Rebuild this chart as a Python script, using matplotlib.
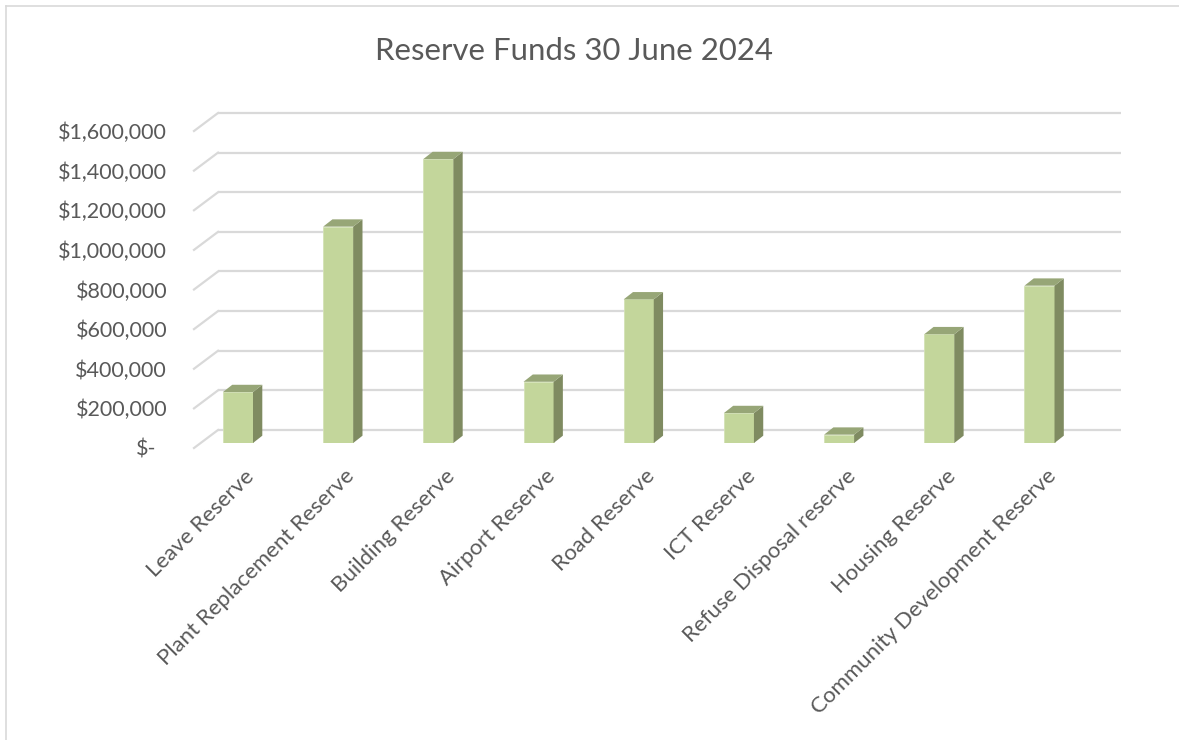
import numpy as np
import matplotlib.pyplot as plt
from matplotlib.lines import Line2D
from matplotlib.transforms import ScaledTranslation

plt.rcParams['font.family'] = ['Lato', 'DejaVu Sans']

# data
categories = ['Leave Reserve', 'Plant Replacement Reserve', 'Building Reserve',
              'Airport Reserve', 'Road Reserve', 'ICT Reserve',
              'Refuse Disposal reserve', 'Housing Reserve',
              'Community Development Reserve']
values = [257000, 1092000, 1433000, 309000, 725000, 151000, 42000, 549000, 794000]

y_ticks = [0, 200000, 400000, 600000, 800000, 1000000, 1200000, 1400000, 1600000]
y_tick_labels = ['$-', '$200,000', '$400,000', '$600,000', '$800,000',
                 '$1,000,000', '$1,200,000', '$1,400,000', '$1,600,000']
title = 'Reserve Funds 30 June 2024'

# colours
text_col = '#595959'
grid_col = '#d9d9d9'
front_col = '#c3d69b'
side_col = '#7f8b61'
top_col = '#97a677'

W, H = 1179, 740
fig = plt.figure(figsize=(W / 100, H / 100), dpi=100)


def px_rect(l, t, r, b):
    return [l / W, 1 - b / H, (r - l) / W, (b - t) / H]


# plane where the bars stand, plus the back wall and the front edge (pseudo 3d)
L, R, T, B = 200.7, 1103.7, 126, 443
back_dx, back_dy = 17.3, -13
front_dx, front_dy = -6.7, 5
xlim = (-0.372, 8.641)
ylim = (0, 1600000)

ax_back = fig.add_axes(px_rect(L + back_dx, T + back_dy, R + back_dx, B + back_dy))
ax_front = fig.add_axes(px_rect(L + front_dx, T + front_dy, R + front_dx, B + front_dy))
ax = fig.add_axes(px_rect(L, T, R, B))

for a in (ax_back, ax_front, ax):
    a.set_xlim(xlim)
    a.set_ylim(ylim)
    a.patch.set_visible(False)
    for s in a.spines.values():
        s.set_visible(False)

ax_back.set_xticks([])
ax_back.set_yticks([])
ax.set_xticks([])
ax.set_yticks([])

# back wall gridlines
ax_back.hlines(y_ticks, xlim[0], xlim[1], color=grid_col, lw=1.6, clip_on=False)

# side wall lines, front edge -> back wall
inv = fig.transFigure.inverted()
for v in y_ticks:
    p0 = inv.transform(ax_front.transData.transform((xlim[0], v)))
    p1 = inv.transform(ax_back.transData.transform((xlim[0], v)))
    fig.add_artist(Line2D([p0[0], p1[0]], [p0[1], p1[1]], color=grid_col, lw=1.6))

# bars with a little depth
x = np.arange(len(categories))
bw = 0.3
ppx = (R - L) / (xlim[1] - xlim[0])
ppy = (B - T) / (ylim[1] - ylim[0])
ddx = 9.3 / ppx
ddy = 7.3 / ppy

ax.bar(x, values, width=bw, color=front_col, edgecolor='#d4e2b6', linewidth=0.6, zorder=3)
for xi, v in zip(x, values):
    xl, xr = xi - bw / 2, xi + bw / 2
    ax.fill([xr, xr, xr + ddx, xr + ddx], [0, v, v + ddy, ddy],
            color=side_col, lw=0, zorder=3, clip_on=False)
    ax.fill([xl, xr, xr + ddx, xl + ddx], [v, v, v + ddy, v + ddy],
            color=top_col, lw=0, zorder=3, clip_on=False)

# labels on the front plane
ax_front.set_yticks(y_ticks)
ax_front.set_yticklabels(y_tick_labels)
ax_front.set_xticks(x)
ax_front.set_xticklabels(categories, rotation=45, ha='right', va='top',
                         rotation_mode='anchor')
ax_front.tick_params(axis='y', length=0, pad=19.4, labelsize=15.5, labelcolor=text_col)
ax_front.tick_params(axis='x', length=0, pad=13, labelsize=16, labelcolor=text_col)
for lab in ax_front.get_xticklabels():
    lab.set_transform(lab.get_transform() + ScaledTranslation(13 / 100, 0, fig.dpi_scale_trans))
ylabs = ax_front.get_yticklabels()
ylabs[0].set_transform(ylabs[0].get_transform() + ScaledTranslation(-11 / 100, 0, fig.dpi_scale_trans))

fig.text(574 / W, 1 - 51 / H, title, ha='center', va='center', fontsize=22.4, color=text_col)

# chart border (left and top visible)
fig.add_artist(Line2D([5.5 / W, 5.5 / W], [0, 1 - 6 / H], color=grid_col, lw=1.2))
fig.add_artist(Line2D([5.5 / W, 1], [1 - 6 / H, 1 - 6 / H], color=grid_col, lw=1.2))

fig.savefig('out.png', dpi=100, facecolor='white')
